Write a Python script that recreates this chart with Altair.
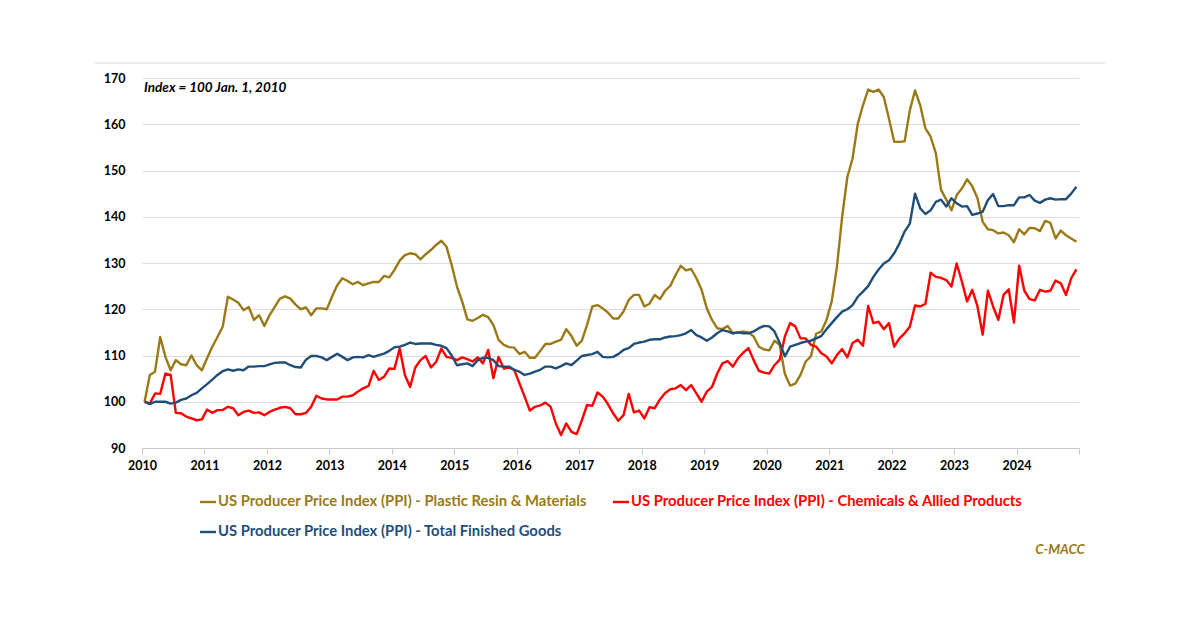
import altair as alt
import pandas as pd

series_names = [
    "US Producer Price Index (PPI) - Plastic Resin & Materials",
    "US Producer Price Index (PPI) - Chemicals & Allied Products",
    "US Producer Price Index (PPI) - Total Finished Goods",
]
colors = ["#9A7A17", "#FF0000", "#1F4E79"]
year_ticks = list(range(2010, 2026))
y_ticks = [90, 100, 110, 120, 130, 140, 150, 160, 170]

plastic = [
    100, 105.8, 106.5, 114, 109.7, 106.8, 109, 108.1, 107.9, 110, 107.9, 106.8,
    109.4, 111.9, 114, 116.2, 122.7, 122.1, 121.4, 119.8, 120.5, 117.7, 118.7, 116.4,
    118.7, 120.5, 122.3, 122.8, 122.3, 121, 120, 120.4, 118.7, 120.2, 120.2, 120,
    122.7, 125.2, 126.7, 126.1, 125.4, 125.9, 125.2, 125.6, 125.9, 125.9, 127.2, 126.9,
    128.5, 130.5, 131.7, 132.1, 131.9, 130.8, 131.9, 132.8, 133.9, 134.8, 133.5, 129.5,
    124.9, 121.7, 117.8, 117.5, 118.1, 118.8, 118.3, 116.6, 113.4, 112.3, 111.8, 111.7,
    110.3, 110.8, 109.5, 109.5, 111, 112.5, 112.5, 113, 113.4, 115.7, 114.2, 112.1,
    113.2, 116.6, 120.6, 120.9, 120.2, 119.3, 118, 118, 119.5, 122, 123.1, 123.1,
    120.6, 121.2, 123.1, 122.2, 124, 125.1, 127.4, 129.4, 128.4, 128.7, 126.7, 124.2,
    120.2, 117.7, 115.9, 115.7, 116.4, 114.8, 115, 115.2, 115, 114.1, 111.9, 111.3,
    111.1, 113.2, 112.3, 106, 103.5, 103.9, 105.8, 108.7, 109.8, 114.7, 115.2, 117.7,
    121.7, 129.2, 140, 148.6, 152.6, 160.1, 164.1, 167.5, 167, 167.5, 165.9, 161.2,
    156.2, 156.2, 156.3, 163, 167.3, 164.1, 159.1, 157.3, 153.7, 145.8, 143.7, 141.4,
    144.7, 146.1, 148.1, 146.6, 144, 138.9, 137.3, 137.1, 136.4, 136.6, 136, 134.5,
    137.3, 136.2, 137.6, 137.5, 136.9, 139.1, 138.7, 135.3, 137, 136, 135.3, 134.6,
]

chemicals = [
    100, 99.6, 101.8, 101.7, 106.1, 105.8, 97.6, 97.5, 96.8, 96.4, 96, 96.2,
    98.3, 97.6, 98.2, 98.2, 98.9, 98.6, 97.1, 97.8, 98.1, 97.6, 97.7, 97.1,
    97.8, 98.3, 98.7, 98.9, 98.6, 97.3, 97.3, 97.6, 98.9, 101.3, 100.7, 100.5,
    100.5, 100.5, 101.1, 101.1, 101.4, 102.2, 102.9, 103.4, 106.7, 104.7, 105.4, 107.2,
    107.1, 111.5, 105.8, 103.2, 107.4, 109, 109.9, 107.4, 108.6, 111.5, 109.7, 109.5,
    109, 109.6, 109.2, 108.7, 109.6, 108.3, 111.2, 105.1, 109.7, 107.2, 107.4, 106.9,
    104, 101.1, 98.1, 98.9, 99.2, 99.8, 98.9, 95.3, 92.8, 95.3, 93.5, 93,
    96, 99.3, 99.1, 102, 101.1, 99.5, 97.5, 95.9, 97.1, 101.7, 97.7, 98.1,
    96.4, 98.8, 98.6, 100.5, 101.9, 102.7, 102.9, 103.6, 102.5, 103.6, 101.8, 100,
    102.2, 103.2, 106.1, 108.3, 108.8, 107.6, 109.4, 110.6, 111.6, 109, 106.7, 106.3,
    106.1, 107.9, 109.1, 114.1, 117, 116.3, 113.7, 113.7, 112.3, 111.9, 110.5, 109.8,
    108.3, 110.1, 111.4, 109.6, 112.7, 113.4, 112.1, 120.7, 117, 117.3, 115.7, 117,
    111.9, 113.7, 114.8, 116.2, 120.8, 120.6, 121.2, 127.9, 127, 126.8, 126.3, 124.9,
    129.9, 126, 121.7, 124.2, 120.6, 114.5, 124, 120.6, 117.7, 123.1, 124.3, 117.1,
    129.4, 124, 122.2, 121.9, 124.2, 123.8, 124, 126.2, 125.6, 123.1, 126.7, 128.6,
]

finished = [
    100, 99.5, 100, 100, 100, 99.6, 99.8, 100.4, 100.7, 101.4, 101.9, 102.9,
    103.8, 104.8, 105.8, 106.6, 107, 106.7, 107, 106.8, 107.6, 107.6, 107.7, 107.7,
    108.1, 108.4, 108.5, 108.5, 107.9, 107.5, 107.4, 109.1, 109.9, 109.9, 109.6, 109,
    109.7, 110.4, 109.7, 109, 109.6, 109.7, 109.6, 110.1, 109.7, 110.1, 110.4, 111,
    111.8, 111.9, 112.3, 112.8, 112.5, 112.6, 112.6, 112.6, 112.3, 112.1, 111.6, 110,
    107.9, 108.1, 108.3, 107.7, 109, 109.5, 109.5, 109, 107.7, 107.6, 107.6, 106.9,
    106.5, 105.8, 106.1, 106.5, 106.9, 107.6, 107.6, 107.2, 107.7, 108.3, 107.9, 108.9,
    109.9, 110.1, 110.3, 110.8, 109.7, 109.6, 109.7, 110.3, 111.2, 111.6, 112.5, 112.8,
    113, 113.4, 113.5, 113.5, 113.9, 114.1, 114.2, 114.4, 114.8, 115.5, 114.4, 113.9,
    113.2, 113.9, 114.8, 115.5, 115.2, 114.8, 115, 114.8, 114.8, 115.2, 115.9, 116.4,
    116.3, 115.2, 112.7, 109.8, 111.9, 112.3, 112.7, 113, 113.2, 113.7, 114.2, 115.7,
    117, 118.3, 119.5, 120, 120.9, 122.7, 123.8, 125, 127, 128.6, 129.9, 130.6,
    132.1, 134.2, 136.8, 138.5, 145, 141.8, 140.6, 141.4, 143.2, 143.7, 142.2, 144,
    142.9, 142.2, 142.3, 140.4, 140.7, 141.1, 143.6, 144.9, 142.3, 142.3, 142.5, 142.5,
    144.2, 144.2, 144.7, 143.5, 143, 143.7, 144, 143.7, 143.8, 143.8, 145, 146.5,
]

FONT = "Lato"
W, H = 937, 370

rows = []
for name, vals in zip(series_names, [plastic, chemicals, finished]):
    for i, v in enumerate(vals):
        rows.append({"t": 2010 + (i + 0.5) / 12, "value": v, "series": name})
df = pd.DataFrame(rows)

x_enc = alt.X(
    "t:Q",
    scale=alt.Scale(domain=[2010, 2025], nice=False, zero=False),
    axis=alt.Axis(
        values=year_ticks,
        labelExpr="datum.value == 2025 ? '' : format(datum.value, 'd')",
        title=None,
        grid=False,
        domainColor="#c8c8c8",
        tickColor="#c8c8c8",
        tickSize=6,
        labelPadding=5,
        labelFont=FONT,
        labelFontSize=12.5,
        labelFontWeight="bold",
        labelColor="#000000",
        labelFlush=False,
    ),
)
y_enc = alt.Y(
    "value:Q",
    scale=alt.Scale(domain=[90, 170], nice=False, zero=False),
    axis=alt.Axis(
        values=y_ticks,
        title=None,
        domain=False,
        ticks=False,
        grid=True,
        gridColor="#dcdcdc",
        gridWidth=1.2,
        labelPadding=17,
        labelFont=FONT,
        labelFontSize=12.5,
        labelFontWeight="bold",
        labelColor="#000000",
    ),
)

layers = []
for name, col in zip(series_names, colors):
    layers.append(
        alt.Chart(df)
        .transform_filter(alt.datum.series == name)
        .mark_line(color=col, strokeWidth=2.4, strokeJoin="round")
        .encode(x=x_enc, y=y_enc)
    )

# top frame line
frame = alt.Chart(pd.DataFrame({"a": [0]})).mark_rule(color="#dcdcdc", strokeWidth=1.2).encode(
    x=alt.value(-47), x2=alt.value(963), y=alt.value(-15)
)

annot = alt.Chart(pd.DataFrame({"label": ["Index = 100 Jan. 1, 2010"]})).mark_text(
    align="left", baseline="middle", font=FONT, fontSize=13.5, fontWeight="bold",
    fontStyle="italic", color="#000000"
).encode(text="label:N", x=alt.value(2), y=alt.value(10))

source = alt.Chart(pd.DataFrame({"label": ["C-MACC"]})).mark_text(
    align="right", baseline="middle", font=FONT, fontSize=13.5, fontWeight="bold",
    fontStyle="italic", color=colors[0]
).encode(text="label:N", x=alt.value(943), y=alt.value(472))

legend_pos = [(58, 424), (471, 424), (58, 454)]
legend_layers = []
for name, col, (lx, ly) in zip(series_names, colors, legend_pos):
    legend_layers.append(
        alt.Chart(pd.DataFrame({"label": [name]})).mark_rule(color=col, strokeWidth=2.4).encode(
            x=alt.value(lx), x2=alt.value(lx + 16), y=alt.value(ly)
        )
    )
    legend_layers.append(
        alt.Chart(pd.DataFrame({"label": [name]})).mark_text(
            align="left", baseline="middle", font=FONT, fontSize=14.8, fontWeight="bold", color=col
        ).encode(text="label:N", x=alt.value(lx + 18), y=alt.value(ly))
    )

chart = (
    alt.layer(*layers, frame, annot, source, *legend_layers)
    .properties(
        width=W,
        height=H,
        autosize=alt.AutoSizeParams(type="none"),
        padding={"left": 134, "top": 70, "right": 113, "bottom": 171},
        background="#ffffff",
    )
    .configure_view(stroke=None)
)

chart.save("out.html", embed_options={"renderer": "svg", "actions": False})
